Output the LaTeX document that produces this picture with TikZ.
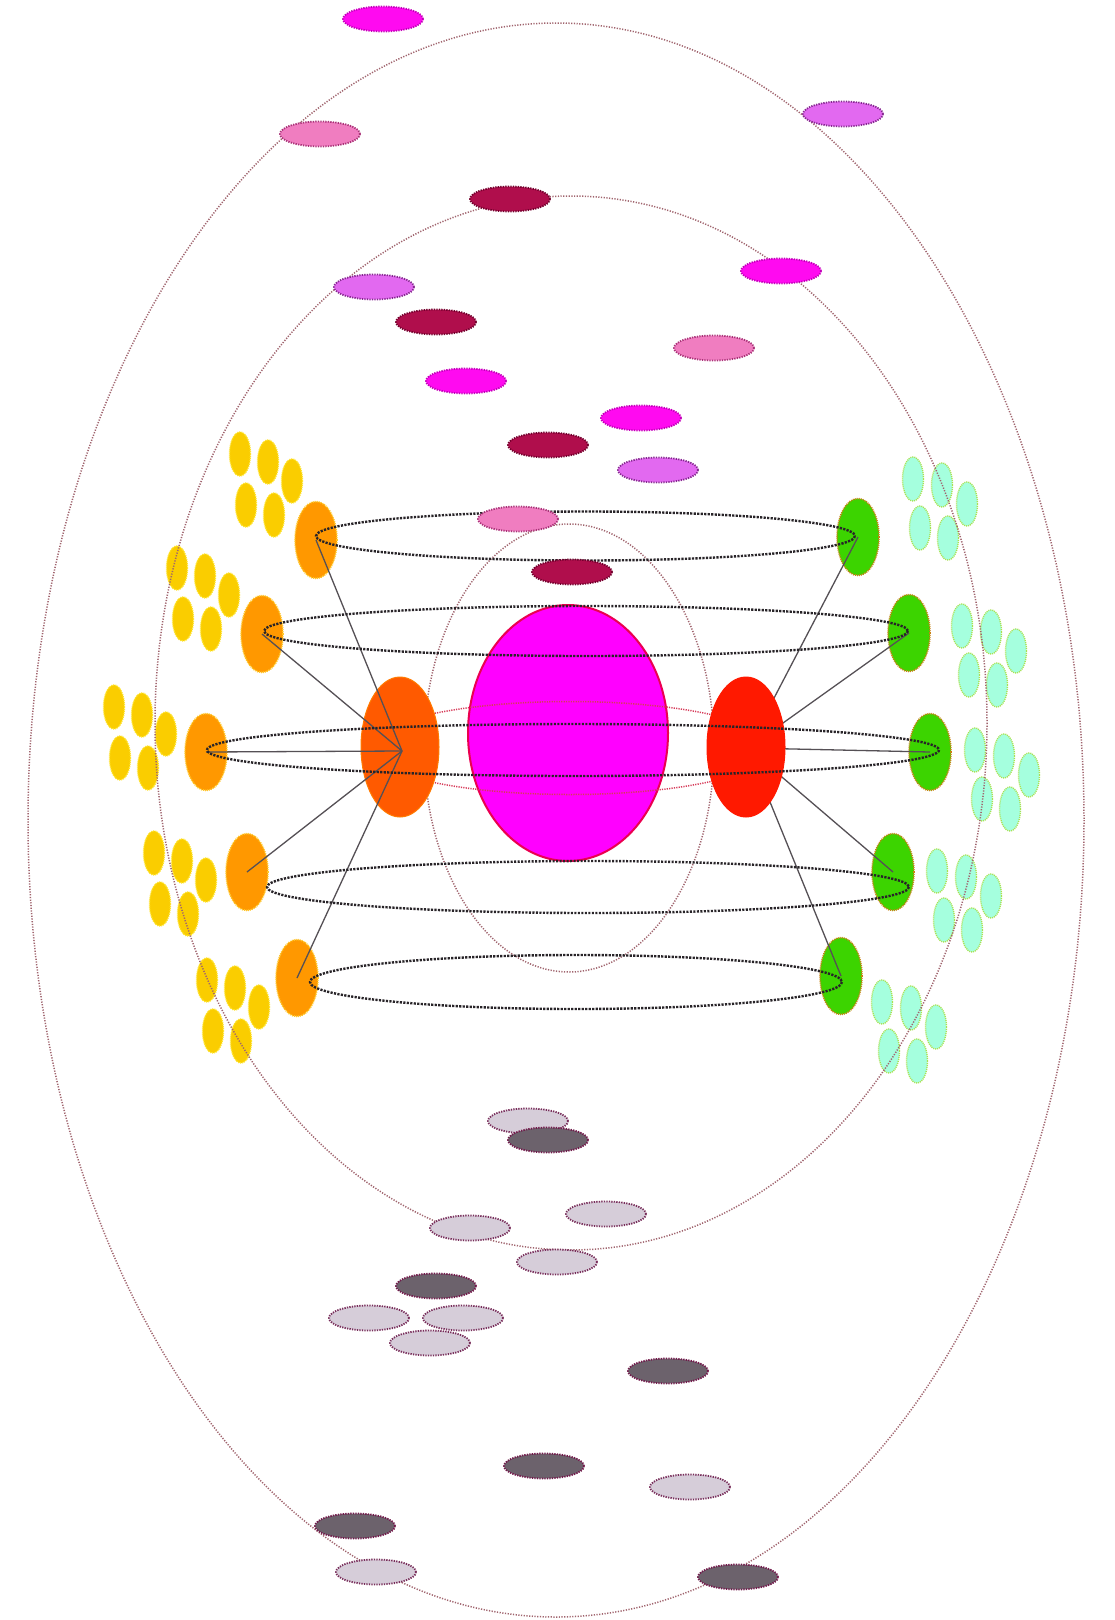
\documentclass[tikz,border=0pt]{standalone}
\usetikzlibrary{shapes.geometric}
\definecolor{orbitc}{RGB}{160,100,110}
\definecolor{ringc}{RGB}{40,36,40}
\definecolor{spokec}{RGB}{85,80,85}
\definecolor{bigfill}{RGB}{255,0,255}
\definecolor{bigline}{RGB}{235,0,80}
\definecolor{acrossc}{RGB}{215,60,90}
\definecolor{magf}{RGB}{255,10,240}
\definecolor{magd}{RGB}{195,0,185}
\definecolor{pinkf}{RGB}{240,125,192}
\definecolor{pinkd}{RGB}{170,50,120}
\definecolor{lilf}{RGB}{226,105,240}
\definecolor{lild}{RGB}{135,40,145}
\definecolor{crimf}{RGB}{176,14,76}
\definecolor{crimd}{RGB}{115,0,45}
\definecolor{lightf}{RGB}{214,205,217}
\definecolor{lightd}{RGB}{120,45,90}
\definecolor{darkf}{RGB}{108,98,108}
\definecolor{darkd}{RGB}{115,25,75}
\definecolor{yelf}{RGB}{250,205,0}
\definecolor{yeld}{RGB}{255,228,40}
\definecolor{cyf}{RGB}{165,255,222}
\definecolor{cyd}{RGB}{170,225,80}
\definecolor{ornf}{RGB}{255,152,0}
\definecolor{ornd}{RGB}{255,200,40}
\definecolor{grnf}{RGB}{60,212,0}
\definecolor{grnd}{RGB}{200,130,20}
\definecolor{redof}{RGB}{255,90,0}
\definecolor{redrf}{RGB}{255,25,0}
\begin{document}
\begin{tikzpicture}[x=1pt,y=-1pt,
  myorbit/.style={draw=orbitc, line width=1.5pt, dash pattern=on 1.2pt off 1.5pt},
  myring/.style={draw=ringc, line width=2.4pt, dash pattern=on 2.2pt off 1.3pt},
  myspoke/.style={draw=spokec, line width=1.3pt},
  mysmall/.style={ellipse, minimum width=80pt, minimum height=25pt, inner sep=0pt, line width=1.8pt, dash pattern=on 1.3pt off 1.2pt},
  smag/.style={mysmall, fill=magf, draw=magd},
  spink/.style={mysmall, fill=pinkf, draw=pinkd},
  slil/.style={mysmall, fill=lilf, draw=lild},
  scrim/.style={mysmall, fill=crimf, draw=crimd},
  slight/.style={mysmall, fill=lightf, draw=lightd},
  sdark/.style={mysmall, fill=darkf, draw=darkd},
  mycl/.style={ellipse, minimum width=21pt, minimum height=44pt, inner sep=0pt, line width=1.4pt, dash pattern=on 1pt off 1pt},
  myyel/.style={mycl, fill=yelf, draw=yeld},
  mycy/.style={mycl, fill=cyf, draw=cyd},
  myhub/.style={ellipse, minimum width=42pt, minimum height=77pt, inner sep=0pt, line width=1.6pt, dash pattern=on 1pt off 1pt},
  myorn/.style={myhub, fill=ornf, draw=ornd},
  mygrn/.style={myhub, fill=grnf, draw=grnd},
  mycore/.style={ellipse, minimum width=78pt, minimum height=140pt, inner sep=0pt, line width=1pt}
]
\useasboundingbox (0,0) rectangle (1115,1620);
\fill[white] (0,0) rectangle (1115,1620);

% side clusters
\foreach \n/\cx/\cy in {ya/240/454, yb/177/568, yc/114/707, yd/154/853, ye/207/980} {
  \foreach \k/\dx/\dy in {1/0/0, 2/28/8, 3/52/27, 4/6/51, 5/34/61}
    \node[myyel] (\n\k) at (\cx+\dx,\cy+\dy) {};
}
\foreach \n/\cx/\cy in {ca/913/479, cb/962/626, cc/975/750, cd/937/871, ce/882/1002} {
  \foreach \k/\dx/\dy in {1/0/0, 2/29/6, 3/54/25, 4/7/49, 5/35/59}
    \node[mycy] (\n\k) at (\cx+\dx,\cy+\dy) {};
}

% orbits
\draw[myorbit] (556,820) ellipse (528 and 797);
\draw[myorbit] (571,723) ellipse (416 and 527);
\draw[myorbit] (569,748) ellipse (145 and 224);

% central body
\node[ellipse, minimum width=200pt, minimum height=256pt, inner sep=0pt, fill=bigfill, draw=bigline, line width=2pt] (core) at (568,733) {};
\draw[draw=acrossc, line width=1.5pt, dash pattern=on 1.2pt off 1.2pt] (570,748) ellipse (203 and 46.5);

% hubs
\node[myorn] (o1) at (316,540) {};
\node[myorn] (o2) at (262,634) {};
\node[myorn] (o3) at (206,752) {};
\node[myorn] (o4) at (247,872) {};
\node[myorn] (o5) at (297,978) {};
\node[mygrn] (g1) at (858,537) {};
\node[mygrn] (g2) at (909,633) {};
\node[mygrn] (g3) at (930,752) {};
\node[mygrn] (g4) at (893,872) {};
\node[mygrn] (g5) at (841,976) {};

\coordinate (rrc) at (748,748);
\foreach \g in {g1,g2,g3,g4,g5} \draw[myspoke] (rrc) -- (\g.center);
\node[mycore, fill=redof, draw=redof!80!yellow] (rl) at (400,747) {};
\node[mycore, fill=redrf, draw=redrf] (rr) at (746,747) {};
\coordinate (rlc) at (402,751);
\foreach \o in {o1,o2,o3,o4,o5} \draw[myspoke] (rlc) -- (\o.center);

% rings
\draw[myring] (585.5,536) ellipse (269.5 and 24.5);
\draw[myring] (586,631) ellipse (322 and 25);
\draw[myring] (573,750) ellipse (366 and 26);
\draw[myring] (588,887) ellipse (321 and 26);
\draw[myring] (576,982) ellipse (266 and 27);

% small ellipses top
\node[smag] (t1) at (383,19) {};
\node[spink] (t2) at (320,134) {};
\node[slil] (t3) at (843,114) {};
\node[scrim] (t4) at (510,199) {};
\node[smag] (t5) at (781,271) {};
\node[slil] (t6) at (374,287) {};
\node[scrim] (t7) at (436,322) {};
\node[spink] (t8) at (714,348) {};
\node[smag] (t9) at (466,381) {};
\node[smag] (t10) at (641,418) {};
\node[scrim] (t11) at (548,445) {};
\node[slil] (t12) at (658,470) {};
\node[spink] (t13) at (518,519) {};
\node[scrim] (t14) at (572,572) {};

% small ellipses bottom
\node[slight] (b1) at (528,1121) {};
\node[sdark] (b2) at (548,1140) {};
\node[slight] (b3) at (606,1214) {};
\node[slight] (b4) at (470,1228) {};
\node[slight] (b5) at (557,1262) {};
\node[sdark] (b6) at (436,1286) {};
\node[slight] (b7) at (369,1318) {};
\node[slight] (b8) at (463,1318) {};
\node[slight] (b9) at (430,1343) {};
\node[sdark] (b10) at (668,1371) {};
\node[sdark] (b11) at (544,1466) {};
\node[slight] (b12) at (690,1487) {};
\node[sdark] (b13) at (355,1526) {};
\node[slight] (b14) at (376,1572) {};
\node[sdark] (b15) at (738,1577) {};
\end{tikzpicture}
\end{document}
